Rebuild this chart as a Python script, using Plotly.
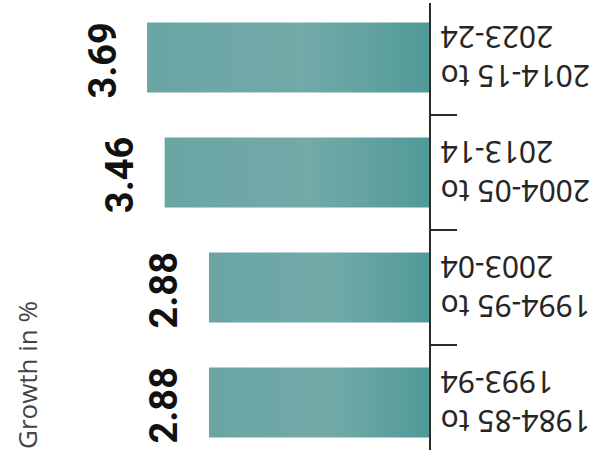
import plotly.graph_objects as go

# ---- data ----
periods = ["2014-15 to<br>2023-24", "2004-05 to<br>2013-14",
           "1994-95 to<br>2003-04", "1984-85 to<br>1993-94"]
growth = [3.69, 3.46, 2.88, 2.88]
value_labels = ["3.69", "3.46", "2.88", "2.88"]
axis_title = "Growth in %"

W, H = 604, 463
BAR_HALF = 0.305
grad = [[0.0, "#6aa5a4"], [0.55, "#72aaa8"], [0.78, "#62a2a0"], [1.0, "#509a98"]]

fig = go.Figure()
for i, v in enumerate(growth):
    xs = [0, v, v, 0, 0]
    ys = [i - BAR_HALF, i - BAR_HALF, i + BAR_HALF, i + BAR_HALF, i - BAR_HALF]
    fig.add_trace(go.Scatter(
        x=xs, y=ys, mode="lines", fill="toself",
        line=dict(width=0, color="rgba(0,0,0,0)"),
        fillgradient=dict(type="horizontal", start=v, stop=0, colorscale=grad),
        hoverinfo="skip", showlegend=False))

AX_X = 429 / W
fig.update_layout(
    width=W, height=H,
    margin=dict(l=0, r=0, t=0, b=0),
    paper_bgcolor="white", plot_bgcolor="white",
    showlegend=False,
    xaxis=dict(domain=[0, AX_X], range=[429 / 76.4, 0], showgrid=False,
               zeroline=False, showline=False, showticklabels=False, ticks=""),
    yaxis=dict(domain=[13 / H, 460 / H], range=[3.413, -0.474], side="right",
               anchor="x", showgrid=False, zeroline=False, showline=True,
               linecolor="#2b2b2b", linewidth=2, ticks="outside", ticklen=26,
               tickwidth=2, tickcolor="#2b2b2b",
               tickvals=[0.5, 1.5, 2.5], showticklabels=False),
)

annotations = []
for i, (p, v, lab) in enumerate(zip(periods, growth, value_labels)):
    annotations.append(dict(
        text=p, x=AX_X, xref="paper", y=i, yref="y",
        xanchor="left", yanchor="middle", xshift=10, textangle=180,
        align="right", showarrow=False,
        font=dict(family="Noto Sans", size=30, color="#262626")))
    annotations.append(dict(
        text="<b>" + lab + "</b>", x=v, xref="x", y=i, yref="y",
        xanchor="right", yanchor="middle", xshift=-21, yshift=-3, textangle=-90,
        showarrow=False,
        font=dict(family="Roboto", size=38, color="#111111")))
annotations.append(dict(
    text=axis_title, x=27 / W, xref="paper", y=1 - 375 / H, yref="paper",
    xanchor="center", yanchor="middle", textangle=-90, showarrow=False,
    font=dict(family="Open Sans", size=26, color="#444444")))
fig.update_layout(annotations=annotations)

fig.write_html("out.html")
